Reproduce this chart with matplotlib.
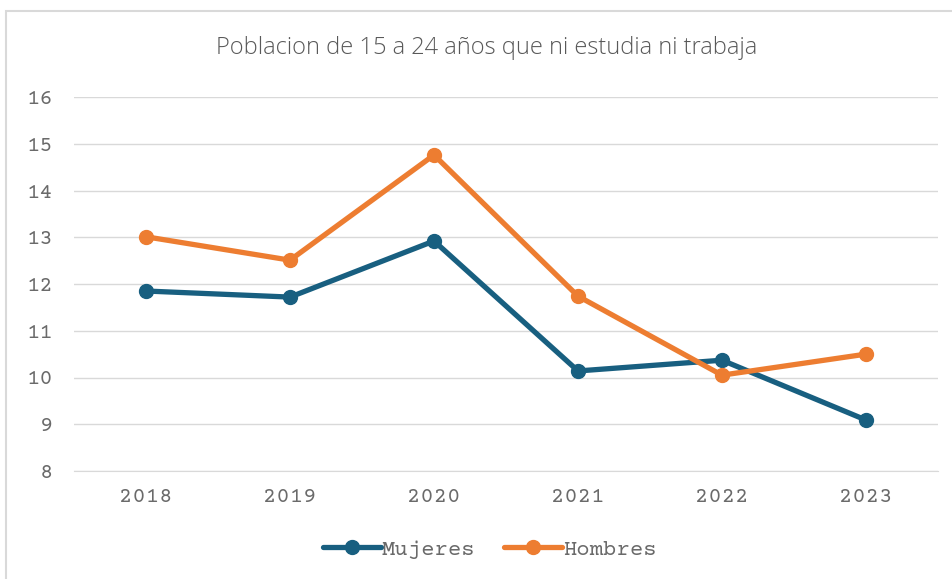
import matplotlib.pyplot as plt
from matplotlib.patches import Rectangle

# data
years = ['2018', '2019', '2020', '2021', '2022', '2023']
mujeres = [11.85, 11.72, 12.92, 10.14, 10.37, 9.09]
hombres = [13.01, 12.51, 14.76, 11.74, 10.05, 10.50]
yticks = [8, 9, 10, 11, 12, 13, 14, 15, 16]

mono = 'Courier Prime'
grey = '#6A6A6A'
plt.rcParams['font.family'] = [mono, 'DejaVu Sans']

fig = plt.figure(figsize=(9.53, 5.79), dpi=100)
# outer chart border
fig.patches.append(Rectangle((6/953, -0.05), 1.0, 1 - 11/579 + 0.05, transform=fig.transFigure,
                             fill=False, edgecolor='#D9D9D9', linewidth=1.5))

ax = fig.add_axes([74/953, 1 - 471/579, 864/953, 374/579])
x = range(len(years))
ax.plot(x, mujeres, color='#185F80', lw=3.8, marker='o', ms=10, label='Mujeres', solid_capstyle='round')
ax.plot(x, hombres, color='#ED7D31', lw=3.8, marker='o', ms=10, label='Hombres', solid_capstyle='round')

ax.set_xlim(-0.5, len(years) - 0.5)
ax.set_ylim(8, 16)
ax.set_yticks(yticks)
ax.set_yticklabels([str(v) for v in yticks], family=mono)
ax.set_xticks(list(x))
ax.set_xticklabels(years, family=mono)
ax.grid(axis='y', color='#D9D9D9', lw=1)
ax.set_axisbelow(True)
for s in ['top', 'right', 'left']:
    ax.spines[s].set_visible(False)
ax.spines['bottom'].set_color('#D9D9D9')
ax.tick_params(length=0, labelsize=16, labelcolor=grey)
ax.tick_params(axis='x', pad=12)
ax.tick_params(axis='y', pad=15)

fig.text(487/953, 1 - 48/579, 'Poblacion de 15 a 24 años que ni estudia ni trabaja',
         ha='center', va='center', fontsize=17, color='#595959', family='Open Sans', weight='light')

leg = fig.legend(loc='center', bbox_to_anchor=(490/953, 1 - 549/579), ncol=2, frameon=False,
                 prop={'family': mono, 'size': 16}, handlelength=2.6, handletextpad=0.05,
                 columnspacing=1.3, borderpad=0)
for t in leg.get_texts():
    t.set_color(grey)

fig.savefig('out.png', dpi=100)
